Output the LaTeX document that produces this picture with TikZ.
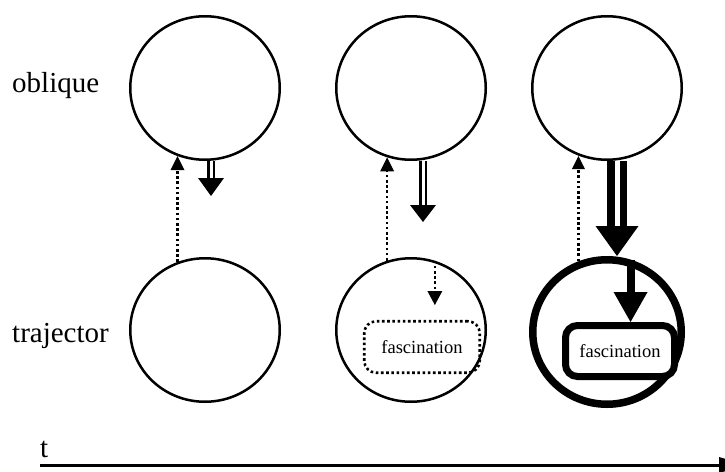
\documentclass[tikz,border=0pt]{standalone}
\usepackage{fontspec}
\setmainfont{Liberation Serif}
\usetikzlibrary{calc,shapes.geometric}
\begin{document}
\begin{tikzpicture}[x=1pt,y=-1pt,
  role/.style={ellipse,draw,line width=2.5pt,minimum width=149.5pt,minimum height=143.5pt,inner sep=0pt},
  heavyrole/.style={ellipse,draw,line width=7.5pt,minimum width=148.5pt,minimum height=144.5pt,inner sep=0pt},
  rowlabel/.style={font=\fontsize{29}{34}\selectfont,anchor=base west,inner sep=0pt},
  focusbox/.style={rectangle,rounded corners=12pt,inner sep=0pt,font=\fontsize{18.5}{22}\selectfont},
  dotline/.style={line width=2.6pt,dash pattern=on 2.6pt off 2.6pt},
  twin/.style={draw,double=white,line width=2.2pt,double distance=3pt},
  heavytwin/.style={draw,double=white,line width=7.5pt,double distance=5pt}
]
\useasboundingbox (0,0) rectangle (725,471);

% row labels
\node[rowlabel] (lobl) at (12,92) {oblique};
\node[rowlabel] (ltraj) at (12,342) {trajector};

% participants, three stages
\node[role] (o1) at (205,88) {};
\node[role] (o2) at (411,88) {};
\node[role] (o3) at (607,88) {};
\node[role] (t1) at (205,330) {};
\node[role] (t2) at (411,330) {};
\node[heavyrole] (t3) at (607,332) {};

% the emerging emotion inside the trajector
\node[focusbox,draw,dotline,minimum width=115.5pt,minimum height=51.5pt] (f2) at (422,347) {fascination};
\node[focusbox,draw,line width=7pt,fill=white,minimum width=109pt,minimum height=51pt] (f3) at (620,351) {fascination};

% dotted attention arrows, trajector -> oblique
\coordinate (u1) at (t1.112 |- o1.248);
\draw[dotline] (t1.112) -- ($(u1)+(0,14)$);
\fill (u1) -- ++(-7,14) -- ++(14,0) -- cycle;

\coordinate (u2) at (t2.109 |- o2.251);
\draw[dotline] (t2.109) -- ($(u2)+(0,14)$);
\fill (u2) -- ++(-7,14) -- ++(14,0) -- cycle;

\coordinate (u3) at (t3.112 |- o3.248);
\draw[dotline] (t3.112) -- ($(u3)+(0,14)$);
\fill (u3) -- ++(-6.5,13) -- ++(13,0) -- cycle;

% double arrows, oblique -> trajector
\coordinate (d1) at (211,196);
\draw[twin] ([xshift=6pt]o1.south) -- ($(d1)+(0,-18)$);
\fill (d1) -- ++(-13,-18) -- ++(26,0) -- cycle;

\coordinate (d2) at (423,222);
\draw[twin] ([xshift=12pt]o2.south) -- ($(d2)+(0,-17)$);
\fill (d2) -- ++(-13,-17) -- ++(26,0) -- cycle;

\coordinate (d3) at ([xshift=10pt]t3.north);
\draw[heavytwin] ([xshift=10pt]o3.south) -- ($(d3)+(0,-30)$);
\fill (d3) -- ++(-21.5,-30) -- ++(43,0) -- cycle;

% arrows inside the trajector
\coordinate (e2y) at (0,305);
\coordinate (e2) at (t2.71 |- e2y);
\draw[dotline] (t2.71) -- ($(e2)+(0,-14)$);
\fill (e2) -- ++(-7.5,-14) -- ++(15,0) -- cycle;

\coordinate (e3) at (t3.72 |- f3.north);
\draw[line width=8pt] (t3.72) -- ($(e3)+(0,-30)$);
\fill (e3) -- ++(-17,-30) -- ++(34,0) -- cycle;

% time axis
\node[rowlabel] (tlab) at (40,457) {t};
\coordinate (ta) at (40,465);
\coordinate (tb) at (719,465);
\draw[line width=3pt] (ta) -- (tb);
\fill (tb) -- ++(0,-8) -- ++(28,8) -- ++(-28,8) -- cycle;
\end{tikzpicture}
\end{document}
